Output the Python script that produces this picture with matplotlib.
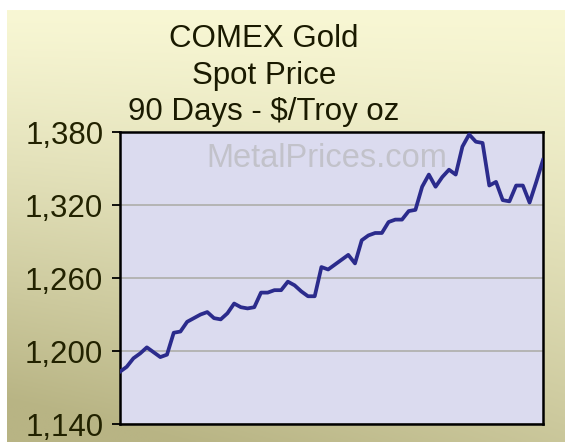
import matplotlib
matplotlib.use('Agg')
import matplotlib.pyplot as plt
import numpy as np
from matplotlib.colors import to_rgb

### data: daily spot price, 90 days
day = list(range(64))
price = [1183, 1187, 1194, 1198, 1203, 1199, 1195, 1197, 1215, 1216,
         1224, 1227, 1230, 1232, 1227, 1226, 1231, 1239, 1236, 1235,
         1236, 1248, 1248, 1250, 1250, 1257, 1254, 1249, 1245, 1245,
         1269, 1267, 1271, 1275, 1279, 1272, 1291, 1295, 1297, 1297,
         1306, 1308, 1308, 1315, 1316, 1335, 1345, 1335, 1343, 1349,
         1345, 1368, 1378, 1372, 1371, 1336, 1339, 1324, 1323, 1336,
         1336, 1322, 1339, 1357]
yticks = [1140, 1200, 1260, 1320, 1380]
ytick_labels = ['1,140', '1,200', '1,260', '1,320', '1,380']
title_lines = ['COMEX Gold', 'Spot Price', '90 Days - $/Troy oz']

plt.rcParams['font.family'] = ['Liberation Sans', 'DejaVu Sans']

W, H = 565, 442
fig = plt.figure(figsize=(W / 100, H / 100), dpi=100)
fig.patch.set_facecolor('white')

### gradient panel behind everything
bg = fig.add_axes([7 / W, 0, 1 - 7 / W, 1 - 10 / H])
bg.set_axis_off()
yy, xx = np.mgrid[0:1:200j, 0:1:200j]
t = np.clip(yy ** 1.2 * (0.72 + 0.4 * (1 - xx)), 0, 1)
top = np.array(to_rgb('#f8f7d4'))
bottom = np.array(to_rgb('#b8b484'))
img = top[None, None, :] * (1 - t[..., None]) + bottom[None, None, :] * t[..., None]
bg.imshow(img, aspect='auto', extent=[0, 1, 0, 1], origin='upper')
bg.set_zorder(-10)

### main axes
ax = fig.add_axes([120 / W, 1 - 424 / H, (543 - 120) / W, (424 - 132) / H])
ax.set_facecolor('#dbdbef')
ax.plot(day, price, color='#2b2b8c', lw=2.7, solid_joinstyle='round', zorder=3)
ax.set_xlim(0, len(day) - 1)
ax.set_ylim(1140, 1380)
ax.set_yticks(yticks)
ax.set_yticklabels(ytick_labels)
ax.set_xticks([])
ax.yaxis.grid(True, color='#b4b4b4', lw=1.4)
ax.set_axisbelow(True)
ax.tick_params(axis='y', direction='out', length=6, width=1.3, pad=6,
               labelsize=22.5, labelcolor='#222200')
for s in ax.spines.values():
    s.set_linewidth(1.8)
    s.set_color('black')

### watermark
ax.text(0.49, 0.91, 'MetalPrices.com', transform=ax.transAxes, ha='center', va='center',
        fontsize=23.5, color='#c2c2ca', zorder=2)

### title
for line, ypix in zip(title_lines, [47, 84, 120]):
    fig.text(264 / W, 1 - ypix / H, line, ha='center', va='baseline', fontsize=22.5, color='#1a1a00')

fig.savefig('out.png', dpi=100)
